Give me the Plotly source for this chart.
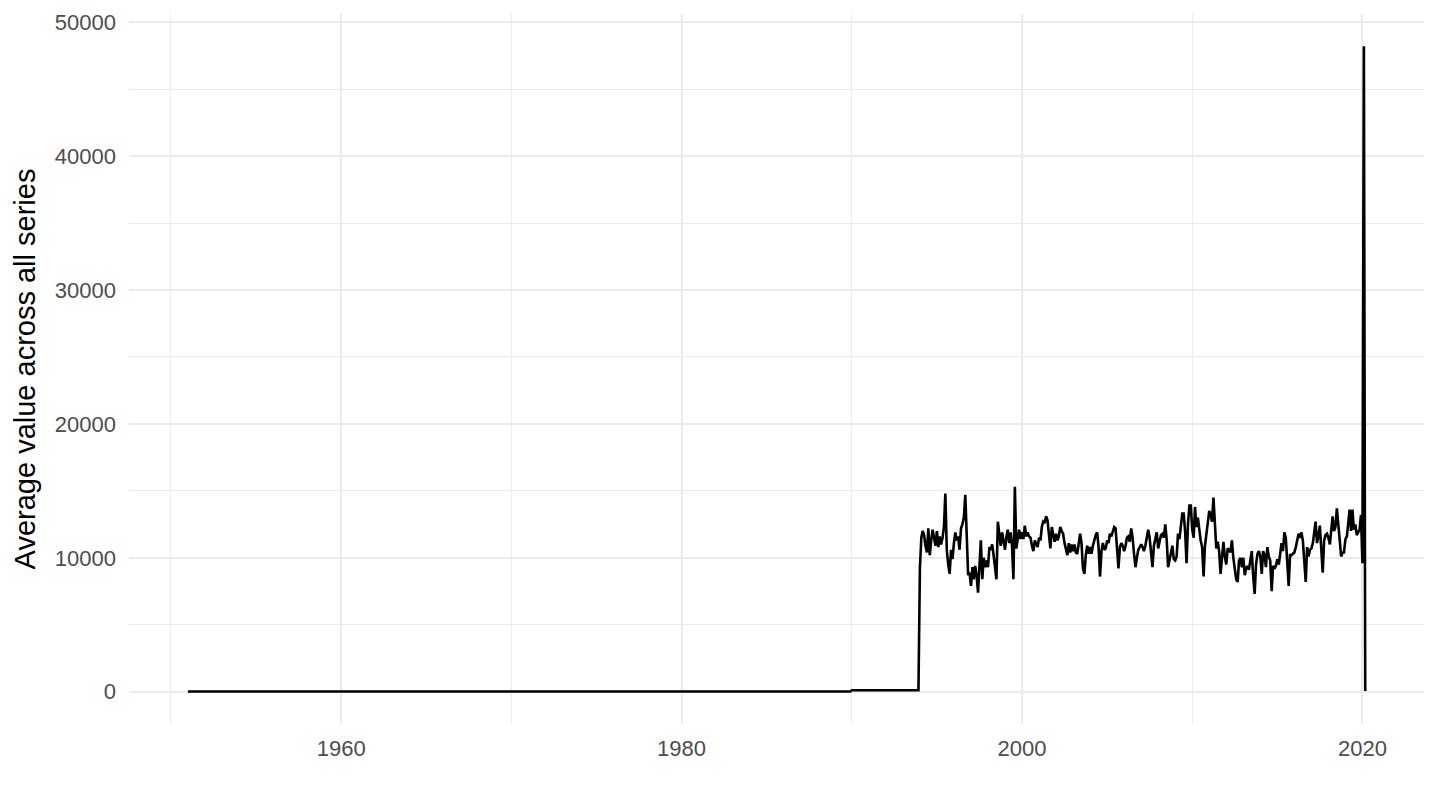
import pandas as pd
import plotly.graph_objects as go

# Early period (near-zero values)
early_dates = ["1951-01-01", "1989-12-01", "1990-01-01", "1993-12-01"]
early_values = [15, 15, 110, 110]

# Monthly values from Jan 1994 to Mar 2020
monthly_start = "1994-01-01"
monthly_values = [
    # 1994
    9200, 11500, 12000, 11700, 10900, 10400, 12200, 10200, 11300, 12100, 11500, 10900,
    # 1995
    12000, 10800, 11600, 11000, 11500, 12300, 14800, 10600, 9500, 8800, 10600, 9900,
    # 1996
    11100, 11900, 11300, 11600, 10600, 12200, 12500, 13000, 14700, 11600, 8700, 8900,
    # 1997
    7900, 9300, 8400, 9400, 8700, 7400, 9600, 11300, 8400, 10000, 9300, 9800,
    # 1998
    9300, 10800, 10600, 11000, 10200, 9300, 8400, 12700, 11600, 10900, 11900, 11300,
    # 1999
    10600, 11600, 12100, 11100, 11900, 10900, 8400, 15300, 10700, 11400, 12100, 11400,
    # 2000
    11900, 11400, 12400, 11600, 11900, 11600, 11500, 10900, 10500, 11300, 11000, 10800,
    # 2001
    11500, 11300, 12300, 12700, 12600, 13100, 12800, 11600, 10700, 12300, 11700, 11200,
    # 2002
    11800, 11300, 11600, 12300, 12000, 11800, 11100, 10500, 10200, 11100, 10400, 11000,
    # 2003
    10500, 11000, 10400, 10300, 11200, 11800, 11100, 9200, 8800, 10200, 10900, 10300,
    # 2004
    10800, 10300, 10900, 11400, 11700, 11900, 10800, 8600, 10500, 11100, 10600, 10700,
    # 2005
    11300, 11100, 11800, 11600, 12000, 12300, 12200, 10500, 9200, 10800, 11100, 10900,
    # 2006
    10500, 10900, 11500, 11600, 11200, 12200, 11500, 10300, 9300, 10000, 10600, 10800,
    # 2007
    11000, 10800, 10500, 10900, 11600, 12100, 11500, 10500, 9300, 10900, 11400, 11900,
    # 2008
    10700, 11300, 11700, 11800, 11500, 12500, 11400, 9300, 9800, 10400, 10900, 9900,
    # 2009
    9800, 10100, 11800, 11400, 12400, 13300, 13300, 12000, 9600, 12500, 13900, 13900,
    # 2010
    12100, 11500, 13800, 12300, 13000, 12100, 11300, 10800, 8600, 10900, 11800, 12800,
    # 2011
    13500, 13200, 12700, 14500, 12300, 10700, 11200, 10500, 8800, 10300, 11200, 10100,
    # 2012
    9500, 10700, 10600, 10400, 11300, 10000, 9300, 8400, 8200, 9800, 10000, 9300,
    # 2013
    10000, 8700, 9200, 9400, 9100, 10000, 10500, 8600, 7300, 9500, 10300, 10500,
    # 2014
    10100, 8800, 10500, 10200, 9300, 10800, 10100, 9800, 7500, 9400, 9200, 9400,
    # 2015
    9900, 9500, 10200, 11100, 10500, 11900, 11500, 9800, 7900, 10200, 10200, 10300,
    # 2016
    10400, 10800, 11400, 11800, 11500, 11900, 11300, 9800, 8200, 10800, 10100, 10600,
    # 2017
    10700, 11100, 11800, 12700, 11100, 11600, 12400, 10400, 8900, 11300, 11700, 11800,
    # 2018
    11500, 11000, 12100, 13100, 12000, 12300, 13700, 12100, 11300, 10100, 10400, 10400,
    # 2019
    11400, 11600, 12800, 13600, 12000, 13600, 12100, 12500, 11700, 11900, 12100, 13200,
    # 2020
    9600, 48200, 60,
]

x_tickvals = ["1960-01-01", "1980-01-01", "2000-01-01", "2020-01-01"]
x_ticktext = ["1960", "1980", "2000", "2020"]
y_tickvals = [0, 10000, 20000, 30000, 40000, 50000]
y_ticktext = ["0", "10000", "20000", "30000", "40000", "50000"]
y_title = "Average value across all series"

monthly_dates = pd.date_range(monthly_start, periods=len(monthly_values), freq="MS")
dates = list(pd.to_datetime(early_dates)) + list(monthly_dates)
values = early_values + monthly_values

FONT = "Liberation Sans, Arial, Helvetica, sans-serif"
GRID = "#EBEBEB"

fig = go.Figure()
fig.add_trace(go.Scatter(
    x=dates, y=values, mode="lines",
    line=dict(color="black", width=2.6),
    hoverinfo="x+y", showlegend=False,
))

fig.update_layout(
    width=1440, height=810,
    paper_bgcolor="white", plot_bgcolor="white",
    margin=dict(l=121, r=24, t=6, b=94, autoexpand=False),
    font=dict(family=FONT, color="#4D4D4D", size=22),
    showlegend=False,
)

fig.update_xaxes(
    type="date",
    range=["1947-07-16", "2023-08-14"],
    tickmode="array", tickvals=x_tickvals, ticktext=x_ticktext,
    showgrid=True, gridcolor=GRID, gridwidth=2.4,
    minor=dict(tickmode="array",
               tickvals=["1950-01-01", "1970-01-01", "1990-01-01", "2010-01-01"],
               showgrid=True, gridcolor=GRID, gridwidth=1.2),
    zeroline=False, showline=False, ticks="",
    tickfont=dict(family=FONT, size=22, color="#4D4D4D"),
    ticklabelstandoff=9,
    automargin=False,
)

fig.update_yaxes(
    range=[-2410, 50610],
    tickmode="array", tickvals=y_tickvals, ticktext=y_ticktext,
    showgrid=True, gridcolor=GRID, gridwidth=2.4,
    minor=dict(tickmode="array",
               tickvals=[5000, 15000, 25000, 35000, 45000],
               showgrid=True, gridcolor=GRID, gridwidth=1.2),
    zeroline=False, showline=False, ticks="",
    tickfont=dict(family=FONT, size=22, color="#4D4D4D"),
    ticklabelstandoff=12,
    title=dict(text=y_title, font=dict(family=FONT, size=29, color="black"), standoff=10),
    automargin=False,
)

fig.write_html("out.html")
